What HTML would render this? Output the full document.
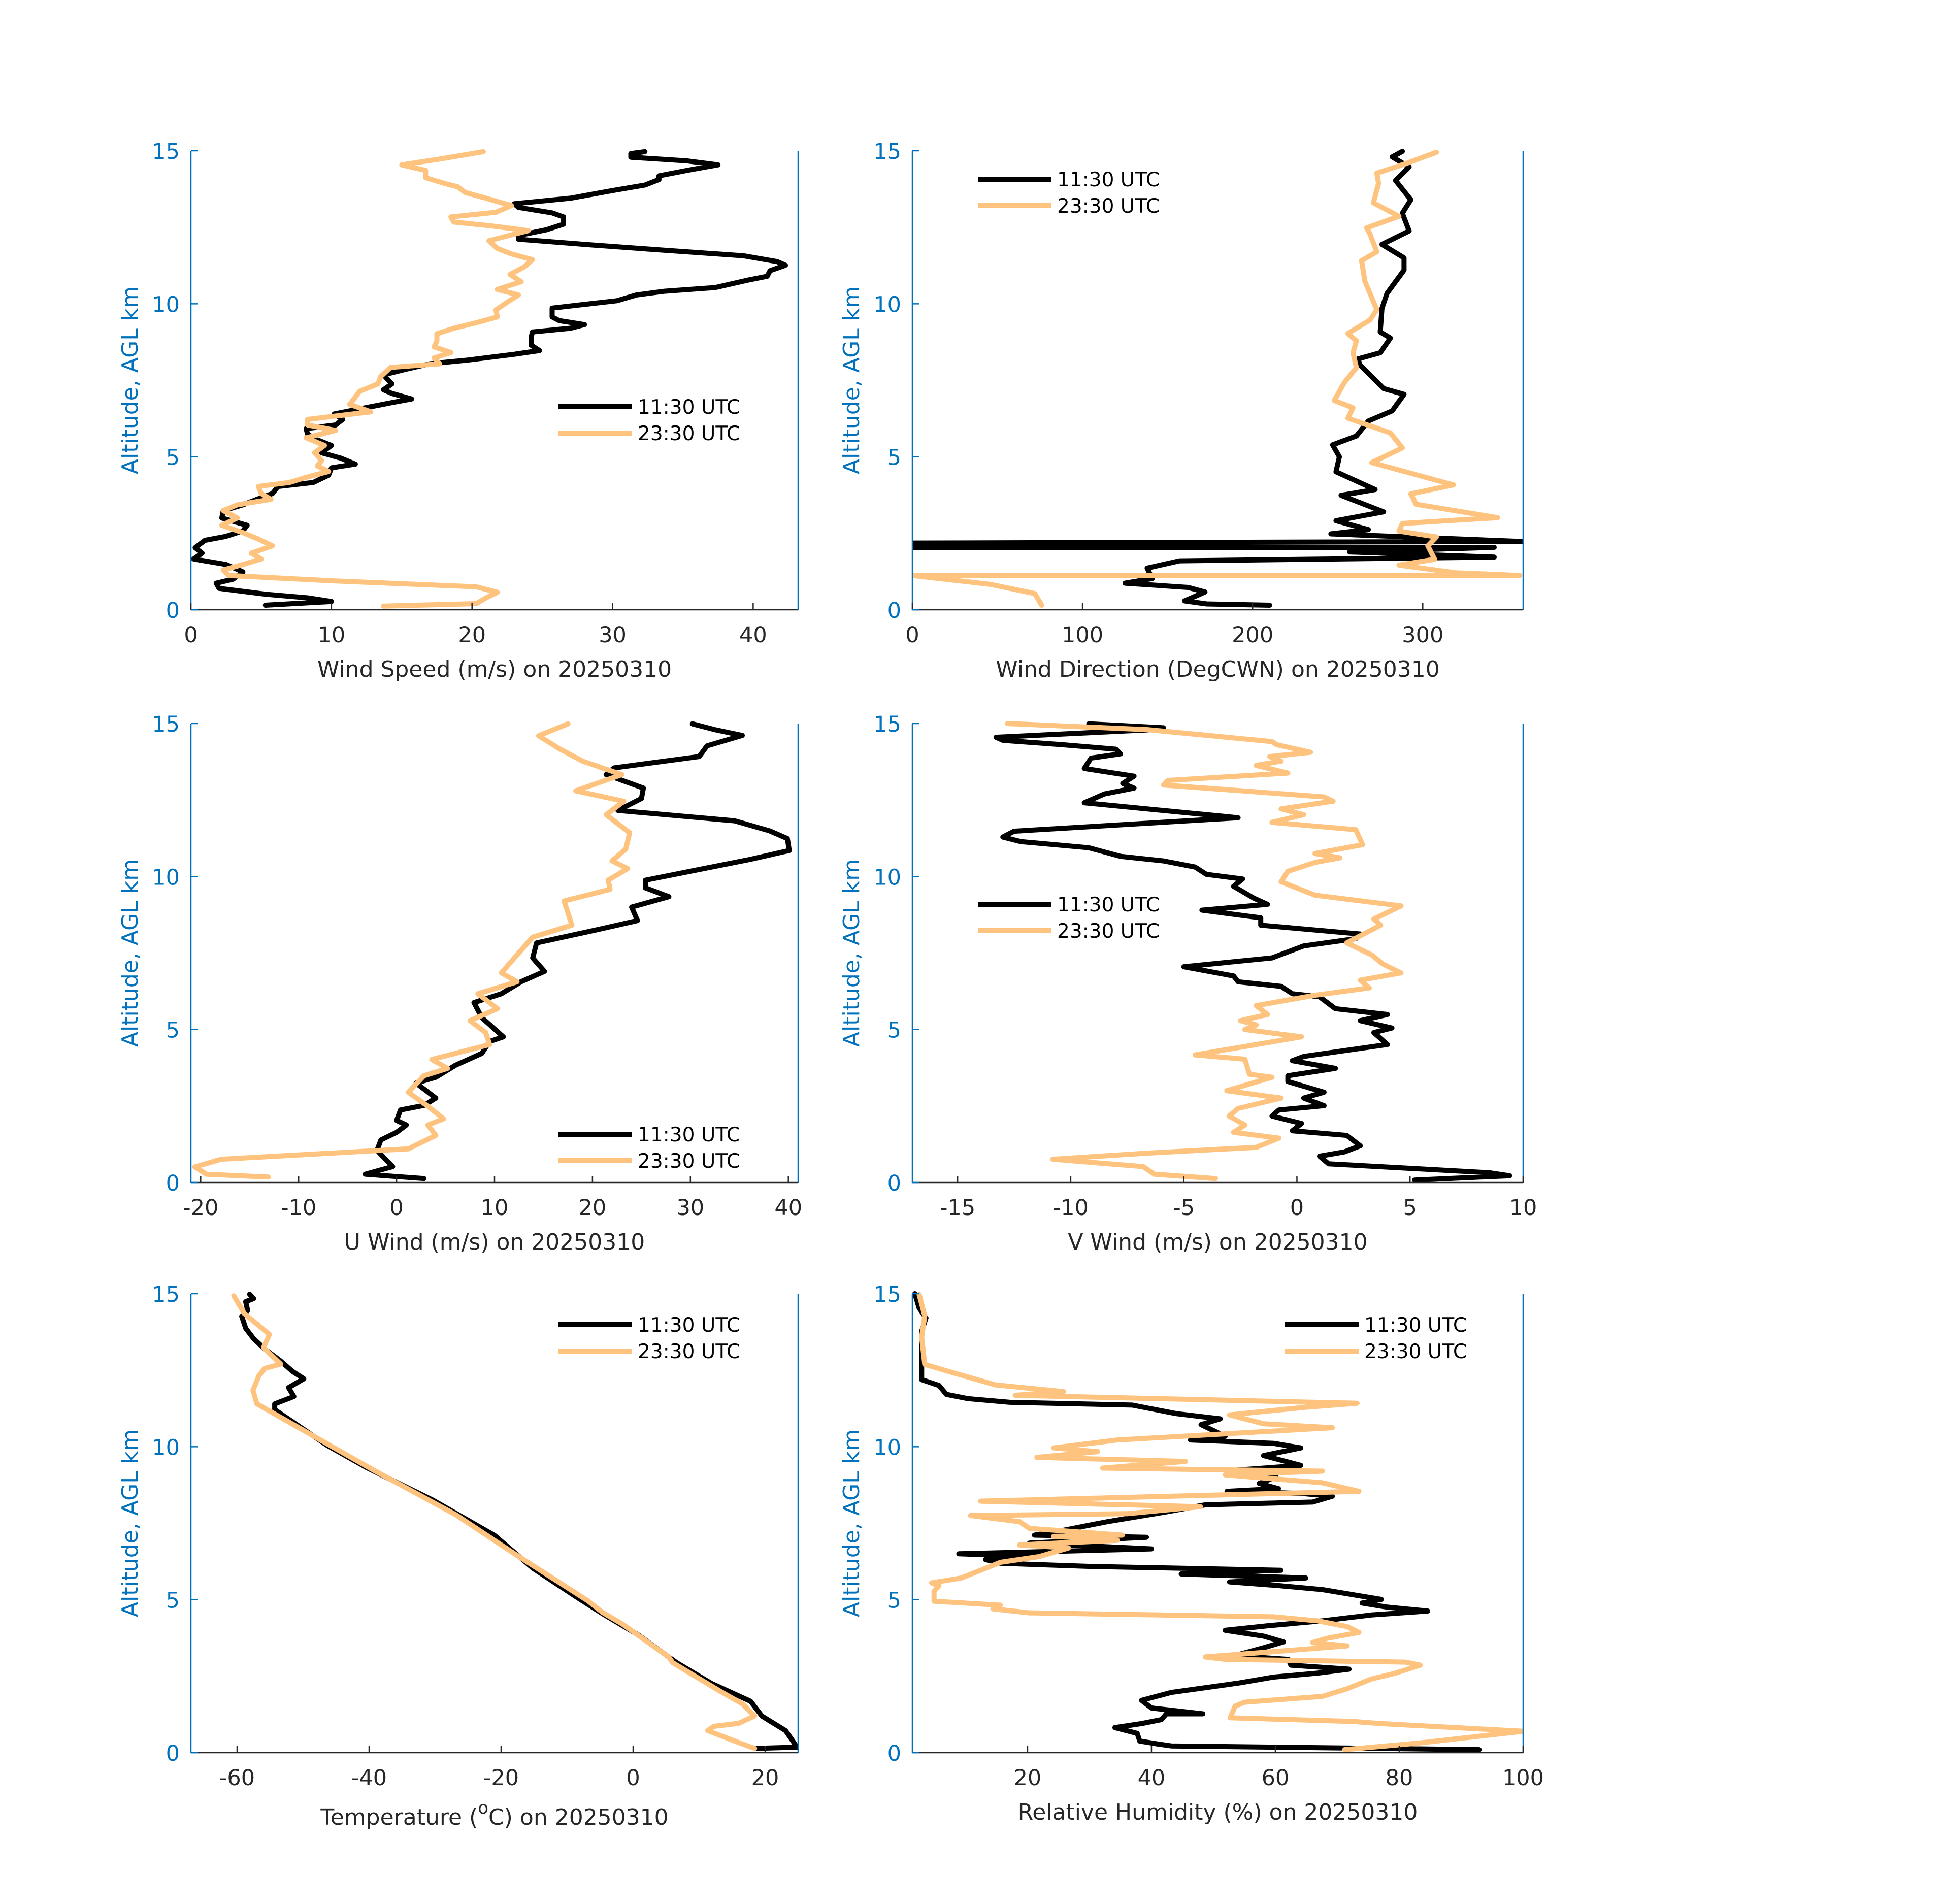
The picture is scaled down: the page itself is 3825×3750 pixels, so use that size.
<!DOCTYPE html>
<html><head><meta charset="utf-8"><style>
html,body{margin:0;padding:0;background:#fff}
svg{display:block}
text{font-family:"DejaVu Sans","Liberation Sans",sans-serif}
</style></head><body>
<svg id="fig" width="3825" height="3750" viewBox="0 0 3825 3750" xmlns="http://www.w3.org/2000/svg">
<rect width="3825" height="3750" fill="#fff"/>
</svg>
<script>
// Y ticks shared
const altTicks = [0, 5, 10, 15];
const seriesNames = ["11:30 UTC", "23:30 UTC"];

// Panel 1: wind speed [value, altitude km]
const wsBlack = [[5.3,0.15],[10,0.27],[8.3,0.39],[5.3,0.51],[2,0.7],[1.8,0.87],[3,1.0],[3.7,1.24],[2.5,1.48],[0.2,1.66],[0.8,1.85],[0.3,2.03],[1,2.27],[2.5,2.4],[3.7,2.58],[4,2.76],[2.2,3.0],[2.3,3.24],[3.7,3.43],[4.7,3.61],[5.8,3.8],[6.2,4.03],[8.7,4.16],[9.8,4.4],[10,4.64],[11.7,4.76],[10.7,4.95],[9.3,5.13],[10,5.37],[9,5.55],[8.3,5.74],[8.2,5.92],[10.3,6.04],[10.8,6.22],[10.2,6.4],[12.3,6.59],[14.3,6.77],[15.7,6.89],[14.3,7.07],[13.7,7.19],[14.3,7.38],[13.7,7.68],[15.3,7.86],[17,8.04],[19.7,8.16],[23,8.35],[24.8,8.47],[24.2,8.65],[24.2,8.9],[24.3,9.08],[27,9.2],[28,9.32],[26.2,9.45],[25.7,9.57],[25.7,9.74],[25.7,9.86],[28,9.98],[30.3,10.1],[31.7,10.29],[33.7,10.41],[37.3,10.53],[39.7,10.78],[41,10.9],[41.2,11.08],[42.3,11.26],[41.7,11.38],[39.3,11.57],[33.7,11.75],[28.3,11.93],[23.3,12.11],[23.3,12.23],[25.3,12.42],[26.5,12.6],[26.5,12.84],[25.7,12.97],[23.3,13.15],[23,13.27],[27,13.45],[30,13.7],[32.3,13.88],[33.3,14.06],[33.3,14.18],[35.3,14.36],[37.5,14.54],[35.3,14.67],[31.3,14.79],[31.3,14.91],[32.3,14.97]];
const wsOrange = [[13.7,0.12],[20.3,0.2],[21,0.39],[21.8,0.57],[20.3,0.75],[10.3,0.94],[2.7,1.12],[2.3,1.3],[3.7,1.48],[5,1.66],[4.3,1.85],[5.8,2.09],[4.7,2.33],[3.7,2.52],[2.2,2.76],[3.3,3.0],[2.3,3.24],[3.3,3.43],[5.7,3.61],[5,3.8],[4.8,4.03],[7,4.16],[8.3,4.34],[9.8,4.52],[9,4.7],[9.3,4.88],[8.8,5.13],[9.5,5.37],[8.2,5.62],[10.3,5.86],[8.3,6.04],[8.3,6.22],[12.8,6.47],[11.3,6.71],[11.7,6.95],[12,7.14],[13.3,7.38],[13.5,7.62],[14.2,7.92],[17.7,8.04],[17.3,8.23],[18.5,8.41],[17.3,8.59],[17.5,8.78],[17.5,9.02],[18.7,9.2],[20.3,9.38],[21.8,9.57],[21.7,9.8],[22.5,10.05],[23.3,10.29],[21.8,10.47],[23.5,10.72],[22.7,10.96],[23.7,11.2],[24.3,11.44],[22.8,11.63],[21.8,11.81],[21.2,12.06],[22.7,12.24],[24,12.39],[21.3,12.55],[18.7,12.67],[18.5,12.84],[21.7,12.99],[22.8,13.21],[21,13.45],[19.5,13.64],[19,13.82],[18,13.94],[16.7,14.12],[16.7,14.36],[15,14.54],[17.7,14.73],[20.8,14.97]];
const wsTicks = [0,10,20,30,40];

// Panel 2: wind direction
const wdBlack = [[210,0.15],[173,0.19],[160,0.29],[172,0.58],[162,0.73],[125,0.87],[141,1.02],[138,1.36],[157,1.6],[231,1.65],[342,1.72],[257,1.89],[342,2.04],[0,2.04],[0,2.18],[359,2.23],[246,2.48],[268,2.62],[249,2.91],[277,3.2],[252,3.74],[272,3.93],[249,4.51],[251,5.0],[247,5.39],[261,5.68],[268,6.17],[282,6.5],[289,7.04],[277,7.23],[263,8.01],[262,8.2],[275,8.4],[281,8.88],[275,9.08],[276,9.85],[279,10.34],[289,11.1],[289,11.5],[276,11.94],[292,12.38],[288,12.96],[293,13.4],[284,14.03],[292,14.47],[282,14.8],[288,14.98]];
const wdOrange = [[76,0.15],[72,0.53],[46,0.83],[0,1.12],[357,1.12],[319,1.21],[286,1.46],[307,1.65],[303,2.09],[308,2.38],[286,2.57],[288,2.82],[344,3.01],[296,3.45],[293,3.79],[318,4.08],[270,4.81],[288,5.29],[281,5.78],[256,6.26],[259,6.6],[248,6.84],[254,7.43],[261,7.91],[259,8.4],[261,8.79],[256,9.03],[269,9.47],[273,9.81],[266,10.73],[264,11.41],[273,11.7],[269,12.28],[267,12.48],[286,12.86],[271,13.3],[274,13.93],[273,14.27],[289,14.56],[308,14.95]];
const wdTicks = [0,100,200,300];

// Panel 3: U wind
const uBlack = [[2.8,0.13],[-3.2,0.27],[-0.4,0.52],[-2,1.05],[-1.6,1.39],[0,1.64],[1,1.88],[0,2.03],[0.4,2.37],[2.8,2.52],[4,2.76],[2,3.25],[4,3.44],[6,3.83],[8.7,4.22],[9.5,4.61],[10.9,4.76],[8.7,5.39],[7.9,5.88],[10.7,6.17],[12.7,6.56],[15.1,6.9],[13.9,7.34],[14.3,7.83],[20.6,8.27],[24.6,8.56],[24,9.0],[27.8,9.34],[25.4,9.63],[25.4,9.88],[30.6,10.21],[36.1,10.56],[40.1,10.85],[39.9,11.24],[38.1,11.49],[34.5,11.82],[22.6,12.16],[25,12.55],[25.2,12.89],[21.4,13.33],[22.2,13.55],[30.9,13.92],[31.7,14.27],[35.3,14.61],[32.5,14.8],[30.2,14.99]];
const uOrange = [[-13.1,0.18],[-19.4,0.27],[-20.6,0.51],[-17.9,0.76],[1.2,1.1],[4,1.54],[3.2,1.88],[4.8,2.08],[3.2,2.49],[1.2,2.95],[2.8,3.49],[5.2,3.73],[3.6,4.02],[9.5,4.51],[9.1,4.9],[7.5,5.29],[10.3,5.68],[8.3,6.17],[12.3,6.56],[10.7,6.85],[12.3,7.44],[13.9,8.02],[17.9,8.41],[17.1,9.2],[21.8,9.58],[21.6,9.88],[23.6,10.26],[22,10.51],[23.4,10.9],[23.8,11.43],[21.4,12.02],[23.2,12.46],[18.3,12.8],[23,13.33],[19,13.77],[16.7,14.16],[14.5,14.6],[17.5,14.99]];
const uTicks = [-20,-10,0,10,20,30,40];

// Panel 4: V wind
const vBlack = [[5.2,0.08],[9.4,0.22],[8.5,0.32],[1.4,0.61],[1,0.86],[2.1,1.0],[2.8,1.2],[2.2,1.54],[-0.2,1.69],[0.2,1.93],[-1.1,2.17],[-0.8,2.37],[1.2,2.51],[0.3,2.76],[1.2,2.95],[-0.4,3.3],[-0.4,3.49],[1.7,3.73],[-0.2,3.98],[0.3,4.12],[4,4.51],[3.4,4.9],[4.2,5.05],[2.8,5.29],[4,5.49],[1.7,5.68],[1,6.07],[-0.2,6.17],[-0.7,6.41],[-2.6,6.56],[-2.8,6.75],[-5,7.05],[-1.1,7.34],[0.3,7.73],[2.6,7.97],[2.8,8.12],[-1.6,8.41],[-1.6,8.65],[-4.2,8.9],[-1.3,9.09],[-1.9,9.29],[-2.8,9.68],[-2.4,9.92],[-4,10.07],[-4.5,10.31],[-5.9,10.51],[-7.8,10.66],[-9.2,10.94],[-12.2,11.14],[-13,11.29],[-12.5,11.48],[-2.6,11.92],[-9.4,12.41],[-8.5,12.7],[-7.2,12.89],[-7.7,13.04],[-7.2,13.28],[-9.4,13.53],[-9.1,13.87],[-7.8,14.01],[-8,14.16],[-10.4,14.31],[-13,14.45],[-13.3,14.55],[-6.4,14.8],[-5.9,14.86],[-9.2,14.99]];
const vOrange = [[-3.6,0.13],[-6.3,0.27],[-6.8,0.52],[-10.8,0.76],[-6.6,0.96],[-1.8,1.15],[-0.8,1.45],[-2.8,1.64],[-2.3,1.88],[-3,2.17],[-2.6,2.42],[-0.7,2.76],[-3.1,3.0],[-1.1,3.44],[-2.1,3.54],[-2.3,4.03],[-4.5,4.17],[0.2,4.76],[-2.3,5.0],[-1.8,5.15],[-2.5,5.29],[-1.3,5.49],[-1.8,5.78],[0.8,6.12],[3.2,6.36],[2.8,6.61],[4.6,6.85],[3.8,7.14],[3.3,7.44],[2.2,7.83],[3.7,8.41],[3.4,8.61],[4.6,9.04],[0.8,9.39],[-0.7,9.83],[-0.4,10.17],[0.8,10.46],[1.9,10.61],[0.8,10.75],[2.9,11.04],[2.6,11.53],[-1.1,11.77],[0.3,12.02],[-0.7,12.21],[1.6,12.46],[1.2,12.6],[-5.9,12.99],[-5.7,13.14],[-0.4,13.38],[-1.8,13.63],[-0.7,13.77],[-1.2,13.92],[0.6,14.06],[-0.9,14.31],[-1.1,14.41],[-6.6,14.8],[-12.8,15.0]];
const vTicks = [-15,-10,-5,0,5,10];

// Panel 5: temperature
const tBlack = [[18.4,0.14],[24.8,0.18],[24.2,0.38],[23.1,0.72],[19.5,1.2],[17.8,1.68],[11.9,2.26],[6.6,2.94],[0.7,3.86],[-4.6,4.54],[-8.1,5.02],[-15.2,6.03],[-21,7.1],[-30.4,8.26],[-40.4,9.32],[-46.4,10.05],[-54.3,11.21],[-54.3,11.4],[-51.4,11.64],[-52.2,11.93],[-49.9,12.22],[-51.6,12.46],[-53.4,12.8],[-55.8,13.19],[-57.5,13.53],[-58.7,13.87],[-59.3,14.26],[-58.4,14.45],[-58.7,14.74],[-57.5,14.84],[-58.1,14.98]];
const tOrange = [[18.4,0.14],[16,0.33],[11.3,0.72],[12.2,0.86],[16,0.96],[18.4,1.2],[16.6,1.59],[13.1,2.02],[6,2.94],[5.4,3.13],[-1.6,4.2],[-4.6,4.58],[-6.9,4.97],[-18.1,6.52],[-26.9,7.78],[-39.3,9.23],[-46.4,10.1],[-57,11.4],[-57.6,11.84],[-56.7,12.32],[-55.8,12.56],[-53.4,12.7],[-56,13.24],[-55.1,13.67],[-58.9,14.35],[-60.5,14.93]];
const tTicks = [-60,-40,-20,0,20];

// Panel 6: relative humidity
const rhBlack = [[92.9,0.1],[43.2,0.22],[40.8,0.29],[38.1,0.38],[37.7,0.63],[34.1,0.82],[38.4,0.95],[41.6,1.08],[42.4,1.27],[48.3,1.27],[40,1.46],[38.4,1.71],[43.2,1.97],[54.2,2.28],[59.7,2.47],[66.8,2.6],[71.9,2.73],[62.5,2.86],[62.1,3.05],[53.4,3.17],[58.1,3.43],[61.3,3.62],[58.1,3.81],[51.9,4.0],[58.9,4.15],[67.6,4.31],[75.5,4.5],[84.6,4.63],[77.9,4.76],[74,4.89],[77.1,5.01],[67.6,5.33],[60.5,5.46],[52.6,5.58],[64.9,5.71],[44.8,5.84],[60.9,5.96],[29.8,6.09],[15.6,6.19],[13.2,6.31],[21.9,6.41],[8.9,6.5],[40,6.66],[20.3,6.85],[39.2,7.04],[21.1,7.11],[25.8,7.27],[32.9,7.55],[42.4,7.87],[48.7,8.1],[66,8.19],[69.2,8.38],[64.4,8.47],[52.2,8.54],[60.5,8.63],[57.4,8.8],[60.1,9.01],[53.4,9.23],[64.1,9.39],[58.1,9.71],[64.1,9.96],[59.7,10.11],[46.3,10.22],[51.9,10.34],[48,10.72],[51.1,10.91],[44,11.08],[36.9,11.36],[17.1,11.45],[10.4,11.57],[6.9,11.71],[5.7,12.0],[2.9,12.19],[2.9,12.63],[2.9,13.77],[3.6,14.21],[2.5,14.53],[1.8,15]];
const rhOrange = [[71.2,0.1],[83.4,0.32],[100,0.7],[77.1,0.95],[72.4,1.02],[52.7,1.14],[53.5,1.52],[55,1.65],[67.6,1.84],[71.6,2.09],[75.5,2.41],[79.4,2.6],[83.4,2.86],[81,2.96],[51.9,3.05],[48.7,3.13],[71.6,3.49],[66,3.6],[68.4,3.74],[73.5,3.93],[71.6,4.12],[66.8,4.31],[59.7,4.44],[20.3,4.57],[14.4,4.7],[15.6,4.82],[4.9,4.95],[4.9,5.27],[5.7,5.46],[4.5,5.55],[9.3,5.71],[12.4,5.96],[15.6,6.22],[21.9,6.41],[26.6,6.69],[18.7,6.79],[34.5,6.94],[24.2,7.07],[35.3,7.11],[20.3,7.33],[18.7,7.55],[10.8,7.75],[36.1,7.81],[47.9,8.04],[12.4,8.22],[73.5,8.54],[67.6,8.82],[51.9,9.08],[67.6,9.2],[32.1,9.3],[45.5,9.52],[21.5,9.65],[31.3,9.84],[24.2,9.96],[34.5,10.22],[69.2,10.62],[58.1,10.75],[52.6,11.04],[64.9,11.29],[73.2,11.42],[18,11.68],[25.8,11.8],[14.8,12.02],[6.9,12.48],[3.4,12.69],[2.9,13.58],[3.4,14.28],[2.5,14.97]];
const rhTicks = [20,40,60,80,100];

const NS = "http://www.w3.org/2000/svg";
const svg = document.getElementById('fig');
const BLUE = "#0072BD", DARK = "#262626", ORANGE = "#FEC47F";

function mk(tag, attrs, parent) {
  const e = document.createElementNS(NS, tag);
  for (const k in attrs) e.setAttribute(k, attrs[k]);
  (parent || svg).appendChild(e);
  return e;
}

const panels = [
  {id:'wind-speed', L:376, R:1572, T:297, B:1201, xmin:0, xmax:43.2, ticks:wsTicks, s:[wsBlack, wsOrange], title:'Wind Speed (m/s) on 20250310', leg:[1100,801]},
  {id:'wind-direction', L:1797, R:3000, T:297, B:1201, xmin:0, xmax:359, ticks:wdTicks, s:[wdBlack, wdOrange], title:'Wind Direction (DegCWN) on 20250310', leg:[1926,353]},
  {id:'u-wind', L:376, R:1572, T:1425, B:2329, xmin:-21, xmax:41, ticks:uTicks, s:[uBlack, uOrange], title:'U Wind (m/s) on 20250310', leg:[1100,2234]},
  {id:'v-wind', L:1797, R:3000, T:1425, B:2329, xmin:-17, xmax:10, ticks:vTicks, s:[vBlack, vOrange], title:'V Wind (m/s) on 20250310', leg:[1926,1781]},
  {id:'temperature', L:376, R:1572, T:2548, B:3452, xmin:-67, xmax:25, ticks:tTicks, s:[tBlack, tOrange], title:null, leg:[1100,2609]},
  {id:'humidity', L:1797, R:3000, T:2548, B:3452, xmin:1.4, xmax:100, ticks:rhTicks, s:[rhBlack, rhOrange], title:'Relative Humidity (%) on 20250310', leg:[2531,2609]}
];

panels.forEach(function(p, pi) {
  const g = mk('g', {});
  
  
  const xs = v => p.L + (v - p.xmin) / (p.xmax - p.xmin) * (p.R - p.L);
  const ys = a => p.B - a / 15 * (p.B - p.T);
  const cid = 'clip' + pi;
  const cp = mk('clipPath', {id: cid}, g);
  mk('rect', {x:p.L, y:p.T - 10, width:p.R - p.L, height:p.B - p.T + 20}, cp);

  const colors = ['#000', ORANGE];
  p.s.forEach(function(ser, si) {
    const pts = ser.map(d => xs(d[0]).toFixed(1) + ',' + ys(d[1]).toFixed(1)).join(' ');
    const pl = mk('polyline', {points:pts, fill:'none', stroke:colors[si], 'stroke-width':10, 'stroke-linejoin':'round', 'stroke-linecap':'round', 'clip-path':'url(#' + cid + ')'}, g);
    
    
  });

  const xa = mk('line', {x1:p.L, y1:p.B, x2:p.R, y2:p.B, stroke:DARK, 'stroke-width':2.5}, g);
  
  
  const ya = mk('line', {x1:p.L, y1:p.T, x2:p.L, y2:p.B, stroke:BLUE, 'stroke-width':2.5}, g);
  
  
  const ra = mk('line', {x1:p.R, y1:p.T, x2:p.R, y2:p.B, stroke:BLUE, 'stroke-width':2.5}, g);
  
  

  p.ticks.forEach(function(t) {
    const x = xs(t);
    mk('line', {x1:x, y1:p.B, x2:x, y2:p.B - 13, stroke:DARK, 'stroke-width':2.5}, g);
    const tx = mk('text', {x:x, y:p.B + 64, 'font-size':43, fill:DARK, 'text-anchor':'middle'}, g);
    tx.textContent = String(t);
    
    
  });
  altTicks.forEach(function(t) {
    const y = ys(t);
    mk('line', {x1:p.L, y1:y, x2:p.L + 13, y2:y, stroke:BLUE, 'stroke-width':2.5}, g);
    const tx = mk('text', {x:p.L - 22, y:y + 16, 'font-size':43, fill:BLUE, 'text-anchor':'end'}, g);
    tx.textContent = String(t);
    
    
  });

  const cy = (p.T + p.B) / 2;
  const yx = p.L - 105;
  const yt = mk('text', {x:yx, y:cy, 'font-size':44, fill:BLUE, 'text-anchor':'middle', transform:'rotate(-90 ' + yx + ' ' + cy + ')'}, g);
  yt.textContent = 'Altitude, AGL km';
  
  

  const xt = mk('text', {x:(p.L + p.R) / 2, y:p.B + 132, 'font-size':44, fill:DARK, 'text-anchor':'middle'}, g);
  if (p.title) {
    xt.textContent = p.title;
  } else {
    const a = mk('tspan', {}, xt); a.textContent = 'Temperature (';
    const b = mk('tspan', {'font-size':34, dy:-22}, xt); b.textContent = 'o';
    const c = mk('tspan', {dy:22}, xt); c.textContent = 'C) on 20250310';
    xt.setAttribute('y', p.B + 142);
  }
  
  

  seriesNames.forEach(function(n, si) {
    const lx = p.leg[0], ly = p.leg[1] + si * 52;
    const ll = mk('line', {x1:lx, y1:ly, x2:lx + 145, y2:ly, stroke:colors[si], 'stroke-width':10}, g);
    
    
    const lt = mk('text', {x:lx + 156, y:ly + 14, 'font-size':39, fill:'#000'}, g);
    lt.textContent = n;
    
    
  });
});
</script>
</body></html>
